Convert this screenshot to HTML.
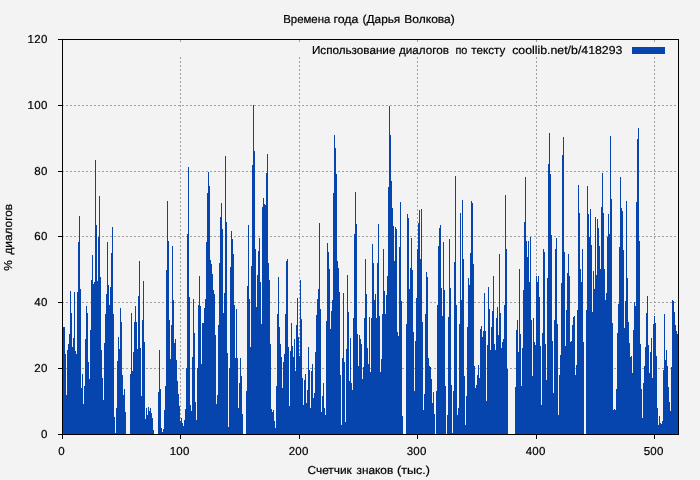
<!DOCTYPE html>
<html><head><meta charset="utf-8"><title>chart</title>
<style>html,body{margin:0;padding:0;background:#f3f3f3;}svg{display:block;will-change:transform;}</style></head>
<body><svg width="700" height="480" viewBox="0 0 700 480" shape-rendering="crispEdges" text-rendering="geometricPrecision">
<rect x="0" y="0" width="700" height="480" fill="#f3f3f3"/>
<line x1="62" y1="368.5" x2="678" y2="368.5" stroke="#a0a0a0" stroke-width="1" stroke-dasharray="2 2"/>
<line x1="62" y1="302.5" x2="678" y2="302.5" stroke="#a0a0a0" stroke-width="1" stroke-dasharray="2 2"/>
<line x1="62" y1="236.5" x2="678" y2="236.5" stroke="#a0a0a0" stroke-width="1" stroke-dasharray="2 2"/>
<line x1="62" y1="171.5" x2="678" y2="171.5" stroke="#a0a0a0" stroke-width="1" stroke-dasharray="2 2"/>
<line x1="62" y1="105.5" x2="678" y2="105.5" stroke="#a0a0a0" stroke-width="1" stroke-dasharray="2 2"/>
<line x1="180.5" y1="435" x2="180.5" y2="57" stroke="#a0a0a0" stroke-width="1" stroke-dasharray="2 2"/>
<line x1="299.5" y1="435" x2="299.5" y2="57" stroke="#a0a0a0" stroke-width="1" stroke-dasharray="2 2"/>
<line x1="417.5" y1="435" x2="417.5" y2="57" stroke="#a0a0a0" stroke-width="1" stroke-dasharray="2 2"/>
<line x1="536.5" y1="435" x2="536.5" y2="57" stroke="#a0a0a0" stroke-width="1" stroke-dasharray="2 2"/>
<line x1="654.5" y1="435" x2="654.5" y2="57" stroke="#a0a0a0" stroke-width="1" stroke-dasharray="2 2"/>
<rect x="180" y="40" width="1" height="2" fill="#a0a0a0"/>
<rect x="299" y="40" width="1" height="2" fill="#a0a0a0"/>
<rect x="417" y="40" width="1" height="2" fill="#a0a0a0"/>
<rect x="536" y="40" width="1" height="2" fill="#a0a0a0"/>
<rect x="654" y="40" width="1" height="2" fill="#a0a0a0"/>
<path d="M63 327h1V434h-1zM64 327h1V434h-1zM65 354h1V434h-1zM66 395h1V434h-1zM67 350h1V434h-1zM68 344h1V434h-1zM69 334h1V434h-1zM70 291h1V434h-1zM71 313h1V434h-1zM72 347h1V434h-1zM73 338h1V434h-1zM74 292h1V434h-1zM75 351h1V434h-1zM76 354h1V434h-1zM77 292h1V434h-1zM78 242h1V434h-1zM79 216h1V434h-1zM80 289h1V434h-1zM81 388h1V434h-1zM82 374h1V434h-1zM83 404h1V434h-1zM84 386h1V434h-1zM85 339h1V434h-1zM86 306h1V434h-1zM87 313h1V434h-1zM88 362h1V434h-1zM89 379h1V434h-1zM90 330h1V434h-1zM91 280h1V434h-1zM92 255h1V434h-1zM93 284h1V434h-1zM94 282h1V434h-1zM95 160h1V434h-1zM96 225h1V434h-1zM97 281h1V434h-1zM98 237h1V434h-1zM99 196h1V434h-1zM100 277h1V434h-1zM101 350h1V434h-1zM102 378h1V434h-1zM103 400h1V434h-1zM104 343h1V434h-1zM105 314h1V434h-1zM106 294h1V434h-1zM107 242h1V434h-1zM108 285h1V434h-1zM109 305h1V434h-1zM110 287h1V434h-1zM111 253h1V434h-1zM112 227h1V434h-1zM113 314h1V434h-1zM114 417h1V434h-1zM115 433h1V434h-1zM116 408h1V434h-1zM117 361h1V434h-1zM118 337h1V434h-1zM119 349h1V434h-1zM120 308h1V434h-1zM121 322h1V434h-1zM122 375h1V434h-1zM123 395h1V434h-1zM124 389h1V434h-1zM125 412h1V434h-1zM130 374h1V434h-1zM131 313h1V434h-1zM132 371h1V434h-1zM133 352h1V434h-1zM134 322h1V434h-1zM135 306h1V434h-1zM136 322h1V434h-1zM137 349h1V434h-1zM138 296h1V434h-1zM139 261h1V434h-1zM140 348h1V434h-1zM141 396h1V434h-1zM142 320h1V434h-1zM143 281h1V434h-1zM144 342h1V434h-1zM145 419h1V434h-1zM146 408h1V434h-1zM147 415h1V434h-1zM148 407h1V434h-1zM149 411h1V434h-1zM150 408h1V434h-1zM151 413h1V434h-1zM152 418h1V434h-1zM153 430h1V434h-1zM158 392h1V434h-1zM159 350h1V434h-1zM160 389h1V434h-1zM161 428h1V434h-1zM162 432h1V434h-1zM163 429h1V434h-1zM164 410h1V434h-1zM165 386h1V434h-1zM166 270h1V434h-1zM167 201h1V434h-1zM168 241h1V434h-1zM169 320h1V434h-1zM170 359h1V434h-1zM171 325h1V434h-1zM172 246h1V434h-1zM173 300h1V434h-1zM174 343h1V434h-1zM175 339h1V434h-1zM176 360h1V434h-1zM177 381h1V434h-1zM178 394h1V434h-1zM179 406h1V434h-1zM180 421h1V434h-1zM181 418h1V434h-1zM182 423h1V434h-1zM183 426h1V434h-1zM184 420h1V434h-1zM185 409h1V434h-1zM186 368h1V434h-1zM187 234h1V434h-1zM188 167h1V434h-1zM189 297h1V434h-1zM190 405h1V434h-1zM191 411h1V434h-1zM192 357h1V434h-1zM193 299h1V434h-1zM194 333h1V434h-1zM195 402h1V434h-1zM196 420h1V434h-1zM197 368h1V434h-1zM198 305h1V434h-1zM199 276h1V434h-1zM200 306h1V434h-1zM201 364h1V434h-1zM202 323h1V434h-1zM203 323h1V434h-1zM204 308h1V434h-1zM205 299h1V434h-1zM206 242h1V434h-1zM207 193h1V434h-1zM208 172h1V434h-1zM209 186h1V434h-1zM210 260h1V434h-1zM211 264h1V434h-1zM212 274h1V434h-1zM213 290h1V434h-1zM214 294h1V434h-1zM215 335h1V434h-1zM216 404h1V434h-1zM217 395h1V434h-1zM218 325h1V434h-1zM219 263h1V434h-1zM220 217h1V434h-1zM221 203h1V434h-1zM222 229h1V434h-1zM223 313h1V434h-1zM224 293h1V434h-1zM225 156h1V434h-1zM226 222h1V434h-1zM227 353h1V434h-1zM228 427h1V434h-1zM229 368h1V434h-1zM230 267h1V434h-1zM231 231h1V434h-1zM232 239h1V434h-1zM233 254h1V434h-1zM234 305h1V434h-1zM235 358h1V434h-1zM236 309h1V434h-1zM237 358h1V434h-1zM238 408h1V434h-1zM239 383h1V434h-1zM240 358h1V434h-1zM241 376h1V434h-1zM242 414h1V434h-1zM246 391h1V434h-1zM247 286h1V434h-1zM248 225h1V434h-1zM249 299h1V434h-1zM250 347h1V434h-1zM251 266h1V434h-1zM252 165h1V434h-1zM253 105h1V434h-1zM254 151h1V434h-1zM255 249h1V434h-1zM256 307h1V434h-1zM257 275h1V434h-1zM258 251h1V434h-1zM259 238h1V434h-1zM260 282h1V434h-1zM261 324h1V434h-1zM262 207h1V434h-1zM263 198h1V434h-1zM264 204h1V434h-1zM265 205h1V434h-1zM266 173h1V434h-1zM267 154h1V434h-1zM268 263h1V434h-1zM269 280h1V434h-1zM270 344h1V434h-1zM271 409h1V434h-1zM272 412h1V434h-1zM273 410h1V434h-1zM274 421h1V434h-1zM275 428h1V434h-1zM276 386h1V434h-1zM277 314h1V434h-1zM278 277h1V434h-1zM279 327h1V434h-1zM280 344h1V434h-1zM281 357h1V434h-1zM282 388h1V434h-1zM283 362h1V434h-1zM284 354h1V434h-1zM285 314h1V434h-1zM286 261h1V434h-1zM287 259h1V434h-1zM288 347h1V434h-1zM289 406h1V434h-1zM290 351h1V434h-1zM291 323h1V434h-1zM292 346h1V434h-1zM293 357h1V434h-1zM294 339h1V434h-1zM295 371h1V434h-1zM296 325h1V434h-1zM297 298h1V434h-1zM298 337h1V434h-1zM299 356h1V434h-1zM300 280h1V434h-1zM301 319h1V434h-1zM302 378h1V434h-1zM303 405h1V434h-1zM304 380h1V434h-1zM305 374h1V434h-1zM306 403h1V434h-1zM307 390h1V434h-1zM308 347h1V434h-1zM309 370h1V434h-1zM310 408h1V434h-1zM311 371h1V434h-1zM312 364h1V434h-1zM313 398h1V434h-1zM314 393h1V434h-1zM315 352h1V434h-1zM316 315h1V434h-1zM317 299h1V434h-1zM318 289h1V434h-1zM319 223h1V434h-1zM320 309h1V434h-1zM321 412h1V434h-1zM322 396h1V434h-1zM323 383h1V434h-1zM324 408h1V434h-1zM325 415h1V434h-1zM326 321h1V434h-1zM327 243h1V434h-1zM328 252h1V434h-1zM329 269h1V434h-1zM330 329h1V434h-1zM331 311h1V434h-1zM332 300h1V434h-1zM333 193h1V434h-1zM334 135h1V434h-1zM335 148h1V434h-1zM336 174h1V434h-1zM337 261h1V434h-1zM338 268h1V434h-1zM339 292h1V434h-1zM340 375h1V434h-1zM341 425h1V434h-1zM342 358h1V434h-1zM343 293h1V434h-1zM344 362h1V434h-1zM345 422h1V434h-1zM346 349h1V434h-1zM347 275h1V434h-1zM348 312h1V434h-1zM349 381h1V434h-1zM350 338h1V434h-1zM351 383h1V434h-1zM352 390h1V434h-1zM353 318h1V434h-1zM354 234h1V434h-1zM355 192h1V434h-1zM356 224h1V434h-1zM357 334h1V434h-1zM358 366h1V434h-1zM359 335h1V434h-1zM360 339h1V434h-1zM361 344h1V434h-1zM362 379h1V434h-1zM363 367h1V434h-1zM364 318h1V434h-1zM365 259h1V434h-1zM366 294h1V434h-1zM367 348h1V434h-1zM368 364h1V434h-1zM369 317h1V434h-1zM370 372h1V434h-1zM371 318h1V434h-1zM372 244h1V434h-1zM373 263h1V434h-1zM374 300h1V434h-1zM375 294h1V434h-1zM376 318h1V434h-1zM377 263h1V434h-1zM378 224h1V434h-1zM379 316h1V434h-1zM380 372h1V434h-1zM381 359h1V434h-1zM382 314h1V434h-1zM383 249h1V434h-1zM384 291h1V434h-1zM385 314h1V434h-1zM386 295h1V434h-1zM387 276h1V434h-1zM388 187h1V434h-1zM389 106h1V434h-1zM390 135h1V434h-1zM391 181h1V434h-1zM392 208h1V434h-1zM393 226h1V434h-1zM394 261h1V434h-1zM395 227h1V434h-1zM396 229h1V434h-1zM397 332h1V434h-1zM398 336h1V434h-1zM399 247h1V434h-1zM400 202h1V434h-1zM401 301h1V434h-1zM402 416h1V434h-1zM406 324h1V434h-1zM407 214h1V434h-1zM408 218h1V434h-1zM409 289h1V434h-1zM410 268h1V434h-1zM411 238h1V434h-1zM412 270h1V434h-1zM413 332h1V434h-1zM414 391h1V434h-1zM415 341h1V434h-1zM416 298h1V434h-1zM417 249h1V434h-1zM418 223h1V434h-1zM419 210h1V434h-1zM420 259h1V434h-1zM421 209h1V434h-1zM422 322h1V434h-1zM423 410h1V434h-1zM424 394h1V434h-1zM425 314h1V434h-1zM426 272h1V434h-1zM427 277h1V434h-1zM428 358h1V434h-1zM429 366h1V434h-1zM430 367h1V434h-1zM431 379h1V434h-1zM432 403h1V434h-1zM433 392h1V434h-1zM434 414h1V434h-1zM436 391h1V434h-1zM437 305h1V434h-1zM438 246h1V434h-1zM439 228h1V434h-1zM440 225h1V434h-1zM441 288h1V434h-1zM442 316h1V434h-1zM443 242h1V434h-1zM444 290h1V434h-1zM445 386h1V434h-1zM447 415h1V434h-1zM448 317h1V434h-1zM449 239h1V434h-1zM450 288h1V434h-1zM451 385h1V434h-1zM452 433h1V434h-1zM453 391h1V434h-1zM454 262h1V434h-1zM455 176h1V434h-1zM456 305h1V434h-1zM457 415h1V434h-1zM458 408h1V434h-1zM459 324h1V434h-1zM460 213h1V434h-1zM461 300h1V434h-1zM462 200h1V434h-1zM463 259h1V434h-1zM464 376h1V434h-1zM465 425h1V434h-1zM466 396h1V434h-1zM467 327h1V434h-1zM468 278h1V434h-1zM469 285h1V434h-1zM470 253h1V434h-1zM471 201h1V434h-1zM472 203h1V434h-1zM473 264h1V434h-1zM474 366h1V434h-1zM475 388h1V434h-1zM476 385h1V434h-1zM477 375h1V434h-1zM478 365h1V434h-1zM479 378h1V434h-1zM480 329h1V434h-1zM481 326h1V434h-1zM482 337h1V434h-1zM483 331h1V434h-1zM484 293h1V434h-1zM485 331h1V434h-1zM486 401h1V434h-1zM487 345h1V434h-1zM488 287h1V434h-1zM489 309h1V434h-1zM490 350h1V434h-1zM491 327h1V434h-1zM492 311h1V434h-1zM493 276h1V434h-1zM494 344h1V434h-1zM495 350h1V434h-1zM496 318h1V434h-1zM497 307h1V434h-1zM498 335h1V434h-1zM499 254h1V434h-1zM500 313h1V434h-1zM501 348h1V434h-1zM502 342h1V434h-1zM503 339h1V434h-1zM504 305h1V434h-1zM505 195h1V434h-1zM506 249h1V434h-1zM507 369h1V434h-1zM515 387h1V434h-1zM516 330h1V434h-1zM517 320h1V434h-1zM518 352h1V434h-1zM519 269h1V434h-1zM520 334h1V434h-1zM521 386h1V434h-1zM522 348h1V434h-1zM523 290h1V434h-1zM524 222h1V434h-1zM525 177h1V434h-1zM526 241h1V434h-1zM527 257h1V434h-1zM528 241h1V434h-1zM529 282h1V434h-1zM530 237h1V434h-1zM531 320h1V434h-1zM532 376h1V434h-1zM533 318h1V434h-1zM534 342h1V434h-1zM535 345h1V434h-1zM536 276h1V434h-1zM537 282h1V434h-1zM538 276h1V434h-1zM539 297h1V434h-1zM540 346h1V434h-1zM541 405h1V434h-1zM542 333h1V434h-1zM543 249h1V434h-1zM544 252h1V434h-1zM545 344h1V434h-1zM546 380h1V434h-1zM547 278h1V434h-1zM548 164h1V434h-1zM549 133h1V434h-1zM550 174h1V434h-1zM551 235h1V434h-1zM552 341h1V434h-1zM553 393h1V434h-1zM554 320h1V434h-1zM555 249h1V434h-1zM556 238h1V434h-1zM557 324h1V434h-1zM558 415h1V434h-1zM559 375h1V434h-1zM560 355h1V434h-1zM561 283h1V434h-1zM562 155h1V434h-1zM563 137h1V434h-1zM564 252h1V434h-1zM565 346h1V434h-1zM566 310h1V434h-1zM567 273h1V434h-1zM568 254h1V434h-1zM569 276h1V434h-1zM570 342h1V434h-1zM571 341h1V434h-1zM572 325h1V434h-1zM573 317h1V434h-1zM574 316h1V434h-1zM575 375h1V434h-1zM576 365h1V434h-1zM577 310h1V434h-1zM578 185h1V434h-1zM579 213h1V434h-1zM580 269h1V434h-1zM581 282h1V434h-1zM582 249h1V434h-1zM583 342h1V434h-1zM586 310h1V434h-1zM587 186h1V434h-1zM588 214h1V434h-1zM589 237h1V434h-1zM590 209h1V434h-1zM591 245h1V434h-1zM592 312h1V434h-1zM593 271h1V434h-1zM594 289h1V434h-1zM595 217h1V434h-1zM596 275h1V434h-1zM597 219h1V434h-1zM598 228h1V434h-1zM599 246h1V434h-1zM600 269h1V434h-1zM601 207h1V434h-1zM602 173h1V434h-1zM603 213h1V434h-1zM604 269h1V434h-1zM605 300h1V434h-1zM606 293h1V434h-1zM607 237h1V434h-1zM608 214h1V434h-1zM609 234h1V434h-1zM610 136h1V434h-1zM611 199h1V434h-1zM612 323h1V434h-1zM613 410h1V434h-1zM614 409h1V434h-1zM615 410h1V434h-1zM616 389h1V434h-1zM617 333h1V434h-1zM618 304h1V434h-1zM619 247h1V434h-1zM620 177h1V434h-1zM621 208h1V434h-1zM622 211h1V434h-1zM623 250h1V434h-1zM624 328h1V434h-1zM625 301h1V434h-1zM626 201h1V434h-1zM627 278h1V434h-1zM628 322h1V434h-1zM629 343h1V434h-1zM630 357h1V434h-1zM631 356h1V434h-1zM632 373h1V434h-1zM633 330h1V434h-1zM634 302h1V434h-1zM635 306h1V434h-1zM636 202h1V434h-1zM637 139h1V434h-1zM638 128h1V434h-1zM639 241h1V434h-1zM640 344h1V434h-1zM641 389h1V434h-1zM642 418h1V434h-1zM643 383h1V434h-1zM644 366h1V434h-1zM645 347h1V434h-1zM646 313h1V434h-1zM647 296h1V434h-1zM648 345h1V434h-1zM649 373h1V434h-1zM650 352h1V434h-1zM651 338h1V434h-1zM652 378h1V434h-1zM653 324h1V434h-1zM654 316h1V434h-1zM655 323h1V434h-1zM656 356h1V434h-1zM657 408h1V434h-1zM658 425h1V434h-1zM659 416h1V434h-1zM660 423h1V434h-1zM661 424h1V434h-1zM662 421h1V434h-1zM663 370h1V434h-1zM664 314h1V434h-1zM665 360h1V434h-1zM666 350h1V434h-1zM667 366h1V434h-1zM668 387h1V434h-1zM669 402h1V434h-1zM670 411h1V434h-1zM671 367h1V434h-1zM672 300h1V434h-1zM673 301h1V434h-1zM674 312h1V434h-1zM675 325h1V434h-1zM676 331h1V434h-1zM677 334h1V434h-1z" fill="#0645ad"/>
<rect x="632" y="47" width="33" height="7" fill="#0645ad"/>
<path d="M62.5 39.5H678.5V434.5H62.5z" fill="none" stroke="#000" stroke-width="1"/>
<line x1="58" y1="434.5" x2="62" y2="434.5" stroke="#000" stroke-width="1"/>
<line x1="58" y1="368.5" x2="62" y2="368.5" stroke="#000" stroke-width="1"/>
<line x1="58" y1="302.5" x2="62" y2="302.5" stroke="#000" stroke-width="1"/>
<line x1="58" y1="236.5" x2="62" y2="236.5" stroke="#000" stroke-width="1"/>
<line x1="58" y1="171.5" x2="62" y2="171.5" stroke="#000" stroke-width="1"/>
<line x1="58" y1="105.5" x2="62" y2="105.5" stroke="#000" stroke-width="1"/>
<line x1="58" y1="39.5" x2="62" y2="39.5" stroke="#000" stroke-width="1"/>
<line x1="62.5" y1="434" x2="62.5" y2="439" stroke="#000" stroke-width="1"/>
<line x1="180.5" y1="434" x2="180.5" y2="439" stroke="#000" stroke-width="1"/>
<line x1="299.5" y1="434" x2="299.5" y2="439" stroke="#000" stroke-width="1"/>
<line x1="417.5" y1="434" x2="417.5" y2="439" stroke="#000" stroke-width="1"/>
<line x1="536.5" y1="434" x2="536.5" y2="439" stroke="#000" stroke-width="1"/>
<line x1="654.5" y1="434" x2="654.5" y2="439" stroke="#000" stroke-width="1"/>
<g font-family="'Liberation Sans', sans-serif" font-size="11.5px" fill="#000" stroke="#000" stroke-width="0.2">
<text x="47.6" y="437.7" text-anchor="end" letter-spacing="0.3">0</text>
<text x="47.6" y="371.7" text-anchor="end" letter-spacing="0.3">20</text>
<text x="47.6" y="305.7" text-anchor="end" letter-spacing="0.3">40</text>
<text x="47.6" y="239.7" text-anchor="end" letter-spacing="0.3">60</text>
<text x="47.6" y="174.7" text-anchor="end" letter-spacing="0.3">80</text>
<text x="47.6" y="108.7" text-anchor="end" letter-spacing="0.3">100</text>
<text x="47.6" y="42.7" text-anchor="end" letter-spacing="0.3">120</text>
<text x="61.7" y="455.2" text-anchor="middle" letter-spacing="0.3">0</text>
<text x="179.7" y="455.2" text-anchor="middle" letter-spacing="0.3">100</text>
<text x="298.7" y="455.2" text-anchor="middle" letter-spacing="0.3">200</text>
<text x="416.7" y="455.2" text-anchor="middle" letter-spacing="0.3">300</text>
<text x="535.7" y="455.2" text-anchor="middle" letter-spacing="0.3">400</text>
<text x="653.7" y="455.2" text-anchor="middle" letter-spacing="0.3">500</text>
<text x="283.2" y="22.9" textLength="47.2" lengthAdjust="spacingAndGlyphs">Времена</text>
<text x="333.4" y="22.9" textLength="25.0" lengthAdjust="spacingAndGlyphs">года</text>
<text x="362.6" y="22.9" textLength="37.7" lengthAdjust="spacingAndGlyphs">(Дарья</text>
<text x="404.3" y="22.9" textLength="50.5" lengthAdjust="spacingAndGlyphs">Волкова)</text>
<text x="307.5" y="474.3" textLength="44.3" lengthAdjust="spacingAndGlyphs">Счетчик</text>
<text x="356.6" y="474.3" textLength="36.6" lengthAdjust="spacingAndGlyphs">знаков</text>
<text x="397.0" y="474.3" textLength="32.9" lengthAdjust="spacingAndGlyphs">(тыс.)</text>
<text x="311.9" y="53.7" textLength="83.5" lengthAdjust="spacingAndGlyphs">Использование</text>
<text x="399.0" y="53.7" textLength="50.0" lengthAdjust="spacingAndGlyphs">диалогов</text>
<text x="455.5" y="53.7" textLength="11.9" lengthAdjust="spacingAndGlyphs">по</text>
<text x="471.3" y="53.7" textLength="33.9" lengthAdjust="spacingAndGlyphs">тексту</text>
<text x="512.2" y="53.7" textLength="110.2" lengthAdjust="spacingAndGlyphs">coollib.net/b/418293</text>
<g transform="translate(12.4,270.8) rotate(-90)"><text x="0" y="0" textLength="10.6" lengthAdjust="spacingAndGlyphs">%</text><text x="16.2" y="0" textLength="50.8" lengthAdjust="spacingAndGlyphs">диалогов</text></g>
</g>
</svg></body></html>
